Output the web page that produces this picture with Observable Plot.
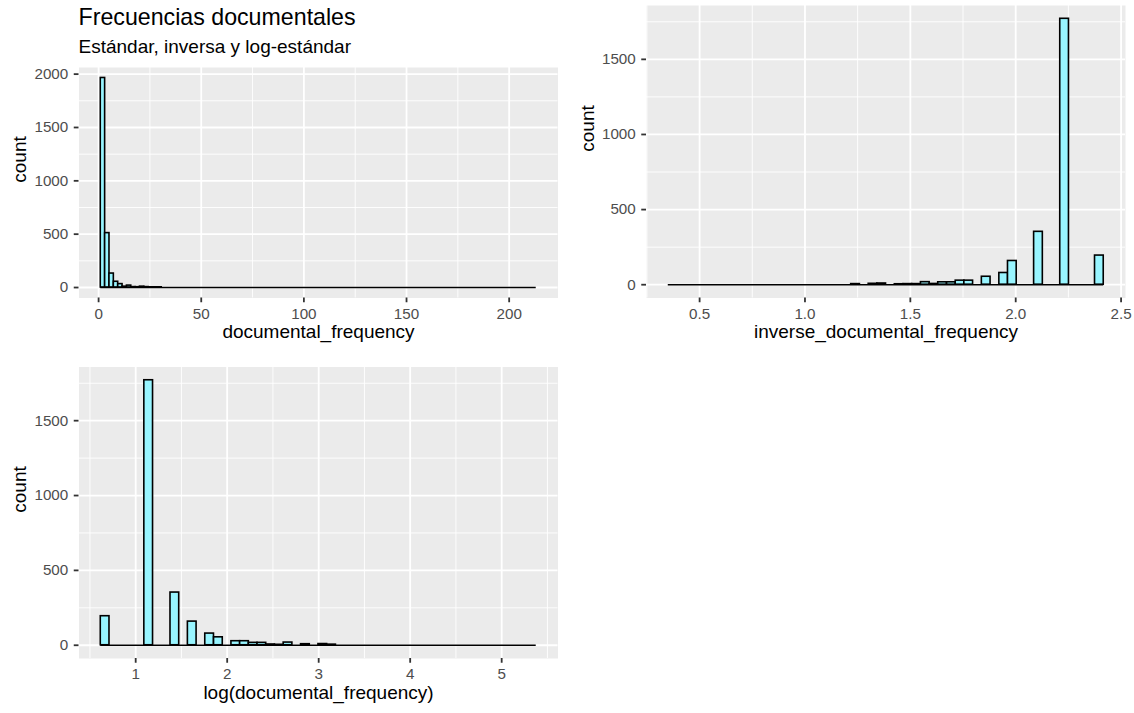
<!DOCTYPE html>
<html>
<head>
<meta charset="utf-8">
<script src="https://cdn.jsdelivr.net/npm/d3@7"></script>
<script src="https://cdn.jsdelivr.net/npm/@observablehq/plot@0.6"></script>
<style>
  body { margin: 0; background: #fff; }
  #wrap { position: relative; width: 1134px; height: 713px; overflow: hidden; background: #fff;
          font-family: 'Liberation Sans', Arial, sans-serif; }
  .p { position: absolute; }
  #titles { position: absolute; left: 0; top: 0; }
</style>
</head>
<body>
<div id="wrap">
  <div id="pA" class="p" style="left:0px;top:0px"></div>
  <div id="pB" class="p" style="left:567px;top:0px"></div>
  <div id="pC" class="p" style="left:0px;top:360px"></div>
  <svg id="titles" width="1134" height="62" font-family="'Liberation Sans', Arial, sans-serif">
    <text x="78.5" y="25" font-size="23.2" fill="#000">Frecuencias documentales</text>
    <text x="78.5" y="52.5" font-size="19" fill="#000">Estándar, inversa y log-estándar</text>
  </svg>
</div>
<script>
// ---- Data (histogram bins: centre, count) ----
// Panel 1: documental_frequency (bin width ~2.12); range = centres of first and last bin
const dfBinWidth = 2.1212;
const dfBinRange = [2.12, 212.12];
const dfBinCenters = [2.12, 4.24, 6.36, 8.48, 10.61, 12.73, 14.85, 16.97, 19.09, 21.21, 23.33, 25.45, 27.58, 29.70];
const dfBinCounts  = [1964, 510, 131, 54, 32, 8, 18, 4, 3, 8, 4, 2, 2, 2];

// Panel 2: inverse_documental_frequency (bin width ~0.0413)
const idfBinWidth = 0.041333;
const idfBinRange = [0.372, 2.397];
const idfBinCenters = [1.240, 1.323, 1.364, 1.447, 1.488, 1.529, 1.571, 1.612, 1.653, 1.695, 1.736, 1.777, 1.860, 1.943, 1.984, 2.108, 2.232, 2.397];
const idfBinCounts  = [4, 6, 8, 3, 4, 4, 17, 5, 16, 16, 27, 27, 53, 78, 158, 352, 1770, 194];

// Panel 3: log(documental_frequency) (bin width ~0.0952)
const logBinWidth = 0.09517;
const logBinRange = [0.666, 5.330];
const logBinCenters = [0.666, 1.142, 1.428, 1.618, 1.808, 1.904, 2.094, 2.189, 2.284, 2.379, 2.474, 2.570, 2.665, 2.855, 3.045, 3.141];
const logBinCounts  = [194, 1770, 352, 158, 78, 53, 27, 27, 16, 16, 5, 3, 18, 7, 8, 4];

// Axis breaks
const dfTicks = [0, 50, 100, 150, 200];
const dfMinor = [25, 75, 125, 175];
const idfTicks = [0.5, 1.0, 1.5, 2.0, 2.5];
const idfMinor = [0.25, 0.75, 1.25, 1.75, 2.25];
const logTicks = [1, 2, 3, 4, 5];
const logMinor = [0.5, 1.5, 2.5, 3.5, 4.5, 5.5];
const countTicksA = [0, 500, 1000, 1500, 2000];
const countTicks = [0, 500, 1000, 1500];
const countMinor = [250, 750, 1250, 1750];

const barFill = "#98F5FF";
const font = "'Liberation Sans', Arial, sans-serif";

function panel(o) {
  const bins = o.centers.map((c, i) => ({x1: c - o.binWidth / 2, x2: c + o.binWidth / 2, y1: 0, y2: o.counts[i]}));
  const lo = o.range[0] - o.binWidth / 2, hi = o.range[1] + o.binWidth / 2;
  const xpad = (hi - lo) * 0.05;
  const ymax = d3.max(bins, d => d.y2);
  return Plot.plot({
    width: o.width, height: o.height,
    marginLeft: o.ml, marginRight: o.mr, marginTop: o.mt, marginBottom: o.mb,
    x: {domain: [lo - xpad, hi + xpad]},
    y: {domain: [-0.05 * ymax, 1.05 * ymax]},
    style: {fontFamily: font, fontSize: "15.2px", background: "transparent", color: "#000", overflow: "visible"},
    marks: [
      Plot.frame({fill: "#EBEBEB", stroke: "none"}),
      Plot.ruleX(o.xMinor, {stroke: "#fff", strokeWidth: 0.9}),
      Plot.ruleY(o.yMinor, {stroke: "#fff", strokeWidth: 0.9}),
      Plot.ruleX(o.xMajor, {stroke: "#fff", strokeWidth: 1.8}),
      Plot.ruleY(o.yMajor, {stroke: "#fff", strokeWidth: 1.8}),
      Plot.rect(bins, {x1: "x1", x2: "x2", y1: "y1", y2: "y2", fill: barFill, stroke: "#000", strokeWidth: 1.6}),
      Plot.ruleY([{y: 0, x1: lo, x2: hi}], {y: "y", x1: "x1", x2: "x2", stroke: "#000", strokeWidth: 1.6}),
      Plot.axisX(o.xMajor, {anchor: "bottom", tickSize: 4.75, tickPadding: 5, stroke: "#333333", strokeWidth: 1.8,
        fill: "#4D4D4D", fontSize: 15.2, tickFormat: o.xFormat, label: null}),
      Plot.axisY(o.yMajor, {anchor: "left", tickSize: 4.75, tickPadding: 6, stroke: "#333333", strokeWidth: 1.8,
        fill: "#4D4D4D", fontSize: 15.2, tickFormat: d => String(d), label: null}),
      Plot.text([o.xLabel], {text: d => d, frameAnchor: "bottom", dy: 40, fontSize: 19, fill: "#000"}),
      Plot.text(["count"], {text: d => d, frameAnchor: "left", rotate: -90, dx: o.ydx, fontSize: 19, fill: "#000"})
    ]
  });
}

document.getElementById("pA").appendChild(panel({
  centers: dfBinCenters, counts: dfBinCounts, binWidth: dfBinWidth, range: dfBinRange,
  xMajor: dfTicks, xMinor: dfMinor, yMajor: countTicksA, yMinor: countMinor,
  xFormat: d => String(d), xLabel: "documental_frequency",
  width: 567, height: 360, ml: 78.5, mr: 9.5, mt: 67, mb: 62.5, ydx: -59.3
}));

document.getElementById("pB").appendChild(panel({
  centers: idfBinCenters, counts: idfBinCounts, binWidth: idfBinWidth, range: idfBinRange,
  xMajor: idfTicks, xMinor: idfMinor, yMajor: countTicks, yMinor: countMinor,
  xFormat: d => d.toFixed(1), xLabel: "inverse_documental_frequency",
  width: 567, height: 360, ml: 79, mr: 9, mt: 5, mb: 62.5, ydx: -58.5
}));

document.getElementById("pC").appendChild(panel({
  centers: logBinCenters, counts: logBinCounts, binWidth: logBinWidth, range: logBinRange,
  xMajor: logTicks, xMinor: logMinor, yMajor: countTicks, yMinor: countMinor,
  xFormat: d => String(d), xLabel: "log(documental_frequency)",
  width: 567, height: 353, ml: 78.5, mr: 9.5, mt: 6.5, mb: 55, ydx: -59.3
}));
</script>
</body>
</html>
